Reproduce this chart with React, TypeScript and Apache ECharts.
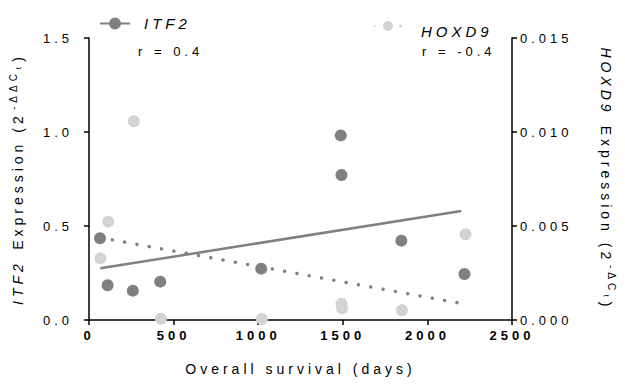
import React, { useEffect, useRef } from "react";
import * as echarts from "echarts";

// ---- data ----
const itf2Days = [65, 110, 259, 421, 1018, 1488, 1492, 1846, 2219];
const itf2Values = [0.435, 0.185, 0.156, 0.204, 0.273, 0.982, 0.771, 0.422, 0.245];
const hoxd9Days = [67, 114, 265, 425, 1022, 1492, 1496, 1849, 2225];
const hoxd9Values = [0.00328, 0.00523, 0.01057, 0.00007, 0.00005, 0.00087, 0.00062, 0.00052, 0.00456];
// fitted regression lines (end points)
const itf2FitDays = [67, 2200];
const itf2FitValues = [0.275, 0.58];
const hoxd9FitDays = [65, 2195];
const hoxd9FitValues = [0.00438, 0.00089];
const xTicks = { min: 0, max: 2500, interval: 500 };
const yLeftTicks = { min: 0, max: 1.5, interval: 0.5 };
const yRightTicks = { min: 0, max: 0.015, interval: 0.005 };
const rLabels = ["r = 0.4", "r = -0.4"];

const FONT = "Liberation Sans";
const DARK = "#808080";
const LIGHT = "#d3d3d3";

const zip = (a: number[], b: number[]) => a.map((v, i) => [v, b[i]]);

export default function App() {
  const ref = useRef<HTMLDivElement>(null);
  useEffect(() => {
    if (!ref.current) return;
    const chart = echarts.init(ref.current, null, { renderer: "svg" });
    const nameRich = {
      i: { fontStyle: "italic", fontSize: 14, fontFamily: FONT, color: "#000", width: 45, lineHeight: 20 },
      h: { fontStyle: "italic", fontSize: 14, fontFamily: FONT, color: "#000", width: 68, lineHeight: 20 },
      n: { fontSize: 14, fontFamily: FONT, color: "#000", width: 150, lineHeight: 20 },
      s: { fontSize: 10, fontFamily: FONT, color: "#000", width: 40, verticalAlign: "top", lineHeight: 20 },
      s2: { fontSize: 10, fontFamily: FONT, color: "#000", width: 28, verticalAlign: "top", lineHeight: 20 },
      t: { fontSize: 8, fontFamily: FONT, color: "#000", width: 8, verticalAlign: "middle", lineHeight: 20 },
      c: { fontSize: 14, fontFamily: FONT, color: "#000", width: 9, lineHeight: 20 },
    };
    const axisLine = { show: true, lineStyle: { color: "#000", width: 1.5 } };
    const axisTick = { show: true, length: 5, inside: false, lineStyle: { color: "#000", width: 1.5 } };
    chart.setOption({
      animation: false,
      backgroundColor: "#fff",
      textStyle: { fontFamily: FONT },
      grid: { left: 88, right: 113, top: 38, bottom: 65 },
      legend: [
        {
          data: [{ name: "ITF2", icon: "path://M0 5 L30 5 L30 7 L0 7 Z M15 0 A6 6 0 1 1 15 12 A6 6 0 1 1 15 0 Z" }],
          left: 95,
          top: 11,
          itemWidth: 30,
          itemHeight: 12,
          selectedMode: false,
          textStyle: { fontSize: 15, fontStyle: "italic", color: "#000", fontFamily: FONT, padding: [0, 0, 0, 9] },
        },
        {
          data: [{ name: "HOXD9", icon: "path://M0 6 A1 1 0 1 1 2 6 A1 1 0 1 1 0 6 Z M9 6 A5 5 0 1 1 19 6 A5 5 0 1 1 9 6 Z M25 6 A1.5 1.5 0 1 1 28 6 A1.5 1.5 0 1 1 25 6 Z" }],
          left: 369,
          top: 8,
          itemWidth: 28,
          itemHeight: 11,
          selectedMode: false,
          formatter: "{a|{name}}",
          textStyle: {
            fontSize: 15,
            fontStyle: "italic",
            color: "#000",
            fontFamily: FONT,
            rich: {
              a: { fontSize: 15, fontStyle: "italic", color: "#000", fontFamily: FONT, padding: [11, 0, 0, 14], lineHeight: 17 },
            },
          },
        },
      ],
      graphic: [
        { type: "text", left: 138, top: 45, style: { text: rLabels[0], font: `13px "${FONT}"`, fill: "#000" } },
        { type: "text", left: 422, top: 45, style: { text: rLabels[1], font: `13px "${FONT}"`, fill: "#000" } },
      ],
      xAxis: {
        type: "value",
        min: xTicks.min,
        max: xTicks.max,
        interval: xTicks.interval,
        splitLine: { show: false },
        axisLine,
        axisTick,
        axisLabel: { color: "#000", fontSize: 13, fontWeight: "bold", fontFamily: FONT, margin: 9, formatter: (v: number) => String(v) },
        name: "Overall survival (days)",
        nameLocation: "middle",
        nameGap: 42,
        nameTextStyle: { color: "#000", fontSize: 14, fontFamily: FONT },
      },
      yAxis: [
        {
          type: "value",
          position: "left",
          min: yLeftTicks.min,
          max: yLeftTicks.max,
          interval: yLeftTicks.interval,
          splitLine: { show: false },
          axisLine,
          axisTick,
          axisLabel: { color: "#000", fontSize: 13, fontFamily: FONT, margin: 16, formatter: (v: number) => v.toFixed(1) },
          name: "{i|ITF2}{n| Expression (2}{s|-ΔΔC}{t|t}{c|)}",
          nameLocation: "middle",
          nameRotate: 90,
          nameGap: 61,
          nameTextStyle: { rich: nameRich },
        },
        {
          type: "value",
          position: "right",
          min: yRightTicks.min,
          max: yRightTicks.max,
          interval: yRightTicks.interval,
          splitLine: { show: false },
          axisLine,
          axisTick,
          axisLabel: { color: "#000", fontSize: 13, fontFamily: FONT, margin: 8, formatter: (v: number) => v.toFixed(3) },
          name: "{h|HOXD9}{n| Expression (2}{s2|-ΔC}{t|t}{c|)}",
          nameLocation: "middle",
          nameRotate: -90,
          nameGap: 84,
          nameTextStyle: { rich: nameRich },
        },
      ],
      series: [
        {
          name: "ITF2 fit",
          type: "line",
          yAxisIndex: 0,
          data: zip(itf2FitDays, itf2FitValues),
          showSymbol: false,
          symbol: "none",
          lineStyle: { color: DARK, width: 2.5 },
          silent: true,
        },
        {
          name: "HOXD9 fit",
          type: "line",
          yAxisIndex: 1,
          data: zip(hoxd9FitDays, hoxd9FitValues),
          showSymbol: false,
          symbol: "none",
          lineStyle: { color: DARK, width: 3.5, type: [0.01, 12.5], cap: "round" },
          silent: true,
        },
        {
          name: "HOXD9",
          type: "scatter",
          yAxisIndex: 1,
          data: zip(hoxd9Days, hoxd9Values),
          symbolSize: 12,
          itemStyle: { color: LIGHT, opacity: 1 },
        },
        {
          name: "ITF2",
          type: "scatter",
          yAxisIndex: 0,
          data: zip(itf2Days, itf2Values),
          symbolSize: 12,
          itemStyle: { color: DARK, opacity: 1 },
        },
      ],
    });
    return () => chart.dispose();
  }, []);
  return (
    <div
      ref={ref}
      style={{ position: "absolute", left: 0, top: 0, width: 625, height: 385, letterSpacing: "4px" }}
    />
  );
}
